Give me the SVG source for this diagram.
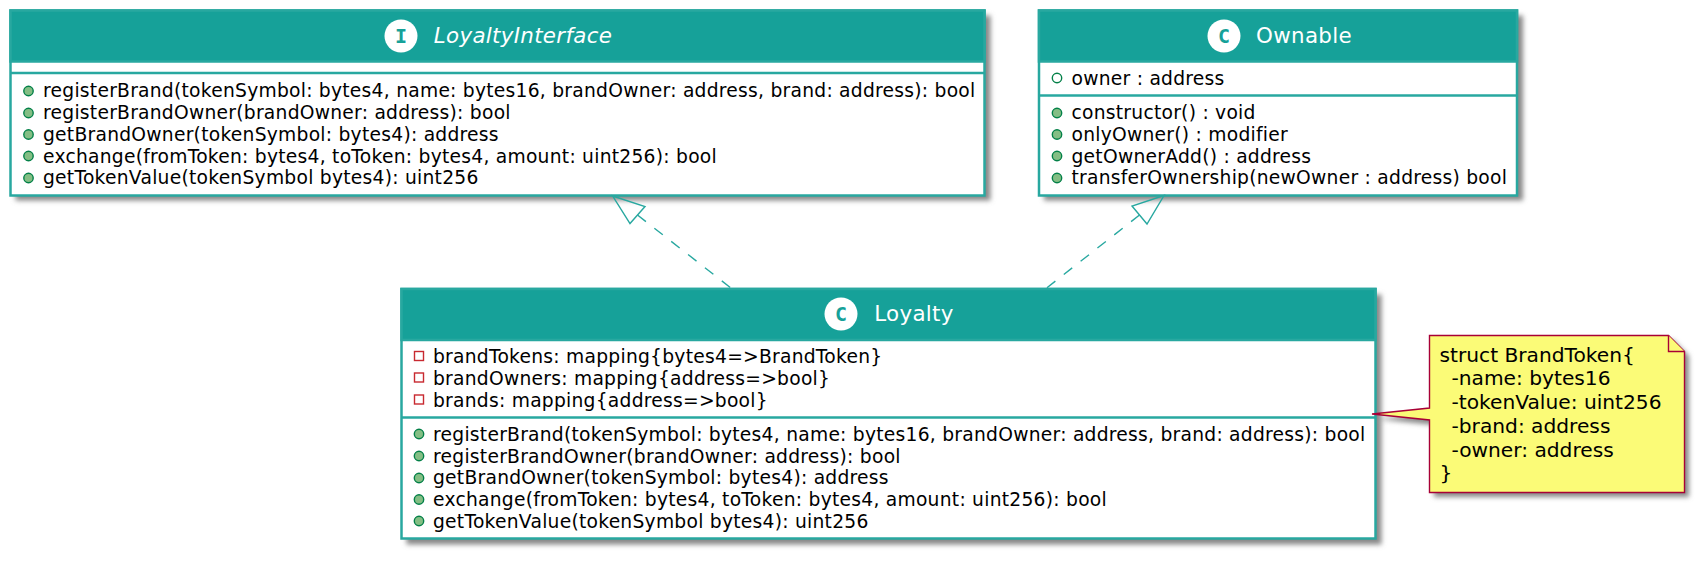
<svg xmlns="http://www.w3.org/2000/svg" width="1701" height="566" viewBox="0 0 1701 566">
<style>
text{font-family:"DejaVu Sans",sans-serif;font-size:18.7px;letter-spacing:.25px;fill:#000}
.title{font-size:21.4px;letter-spacing:.3px;fill:#fff;text-anchor:middle}
.box{fill:#fff;stroke:#28A8A0;stroke-width:2.5}
.head{fill:#16A199;stroke:#28A8A0;stroke-width:2.5}
.sep{stroke:#28A8A0;stroke-width:2.5;fill:none}
.pub{fill:#84BE84;stroke:#038048;stroke-width:1.4}
.fld{fill:none;stroke:#038048;stroke-width:1.4}
.prv{fill:none;stroke:#C82930;stroke-width:1.4}
.ic{fill:#fff}
.ict{font-family:"DejaVu Sans Mono",monospace;font-size:20px;font-weight:bold;letter-spacing:0;fill:#16A199;text-anchor:middle}
.note{fill:#FBFB77;stroke:#A80036;stroke-width:1.4}
.nt{font-size:20.2px;letter-spacing:0}
.conn{fill:none;stroke:#28A8A0;stroke-width:1.4}
.dash{stroke-dasharray:10.7 10.7}
.shadow{fill:#888}
</style>
<defs>
<filter id="sh" x="-5%" y="-5%" width="110%" height="115%"><feGaussianBlur stdDeviation="2.7"/></filter>
</defs>
<g id="LoyaltyInterface">
<rect class="shadow" x="15.500" y="15.500" width="975" height="185" filter="url(#sh)"/>
<rect class="box" x="10.500" y="10.500" width="974" height="185"/>
<rect class="head" x="10.500" y="10.500" width="974" height="51"/>
<path class="sep" d="M10.500 73H984.500"/>
<circle class="ic" cx="401" cy="36" r="16.500"/>
<text class="ict" x="401" y="43">I</text>
<text class="title" x="523" y="43" font-style="italic">LoyaltyInterface</text>
<circle class="pub" cx="28.500" cy="91" r="4.700"/><text x="43" y="97">registerBrand(tokenSymbol: bytes4, name: bytes16, brandOwner: address, brand: address): bool</text>
<circle class="pub" cx="28.500" cy="113" r="4.700"/><text x="43" y="119">registerBrandOwner(brandOwner: address): bool</text>
<circle class="pub" cx="28.500" cy="134.500" r="4.700"/><text x="43" y="140.500">getBrandOwner(tokenSymbol: bytes4): address</text>
<circle class="pub" cx="28.500" cy="156" r="4.700"/><text x="43" y="162.500">exchange(fromToken: bytes4, toToken: bytes4, amount: uint256): bool</text>
<circle class="pub" cx="28.500" cy="178" r="4.700"/><text x="43" y="184">getTokenValue(tokenSymbol bytes4): uint256</text>
</g>
<g id="Ownable">
<rect class="shadow" x="1044" y="15.500" width="479" height="185" filter="url(#sh)"/>
<rect class="box" x="1039" y="10.500" width="478" height="185"/>
<rect class="head" x="1039" y="10.500" width="478" height="51"/>
<path class="sep" d="M1039 95.500H1517"/>
<circle class="ic" cx="1224" cy="36" r="16.500"/>
<text class="ict" x="1224" y="43">C</text>
<text class="title" x="1304" y="43">Ownable</text>
<circle class="fld" cx="1057" cy="78" r="4.700"/><text x="1071.500" y="85">owner : address</text>
<circle class="pub" cx="1057" cy="113" r="4.700"/><text x="1071.500" y="119">constructor() : void</text>
<circle class="pub" cx="1057" cy="134.500" r="4.700"/><text x="1071.500" y="140.500">onlyOwner() : modifier</text>
<circle class="pub" cx="1057" cy="156" r="4.700"/><text x="1071.500" y="162.500">getOwnerAdd() : address</text>
<circle class="pub" cx="1057" cy="178" r="4.700"/><text x="1071.500" y="184">transferOwnership(newOwner : address) bool</text>
</g>
<g id="Loyalty">
<rect class="shadow" x="406.500" y="294.500" width="975" height="250" filter="url(#sh)"/>
<rect class="box" x="401.500" y="289" width="974" height="249.500"/>
<rect class="head" x="401.500" y="289" width="974" height="51"/>
<path class="sep" d="M401.500 417.500H1375.500"/>
<circle class="ic" cx="841" cy="314" r="16.500"/>
<text class="ict" x="841" y="321">C</text>
<text class="title" x="914" y="321">Loyalty</text>
<rect class="prv" x="414.500" y="351.500" width="9" height="9"/><text x="433" y="363">brandTokens: mapping{bytes4=&gt;BrandToken}</text>
<rect class="prv" x="414.500" y="373" width="9" height="9"/><text x="433" y="385">brandOwners: mapping{address=&gt;bool}</text>
<rect class="prv" x="414.500" y="395" width="9" height="9"/><text x="433" y="406.500">brands: mapping{address=&gt;bool}</text>
<circle class="pub" cx="419" cy="434" r="4.700"/><text x="433" y="441">registerBrand(tokenSymbol: bytes4, name: bytes16, brandOwner: address, brand: address): bool</text>
<circle class="pub" cx="419" cy="456" r="4.700"/><text x="433" y="462.500">registerBrandOwner(brandOwner: address): bool</text>
<circle class="pub" cx="419" cy="478" r="4.700"/><text x="433" y="484">getBrandOwner(tokenSymbol: bytes4): address</text>
<circle class="pub" cx="419" cy="499.500" r="4.700"/><text x="433" y="506">exchange(fromToken: bytes4, toToken: bytes4, amount: uint256): bool</text>
<circle class="pub" cx="419" cy="521" r="4.700"/><text x="433" y="528">getTokenValue(tokenSymbol bytes4): uint256</text>
</g>
<g id="BrandTokenNote">
<path class="shadow" d="M1434 340H1673L1689 356V497H1434V425L1377 419L1434 413Z" filter="url(#sh)"/>
<path class="note" d="M1429.500 335.500H1668.500L1684.500 351.500V492.500H1429.500V420L1372 414L1429.500 408Z"/>
<path class="note" d="M1668.500 335.500V351.500H1684.500"/>
<text class="nt" x="1439.500" y="361.500">struct BrandToken{</text>
<text class="nt" x="1451.500" y="385">-name: bytes16</text>
<text class="nt" x="1451.500" y="409">-tokenValue: uint256</text>
<text class="nt" x="1451.500" y="432.500">-brand: address</text>
<text class="nt" x="1451.500" y="456.500">-owner: address</text>
<text class="nt" x="1439.500" y="480">}</text>
</g>
<g id="connectors">
<path class="conn dash" d="M637.500 215L731.500 288.500"/>
<path class="conn" d="M612.700 196L645 206.500L630 223.500Z"/>
<path class="conn dash" d="M1139.500 215L1046 288.500"/>
<path class="conn" d="M1164 195.500L1132 206L1147 224Z"/>
</g>
</svg>
